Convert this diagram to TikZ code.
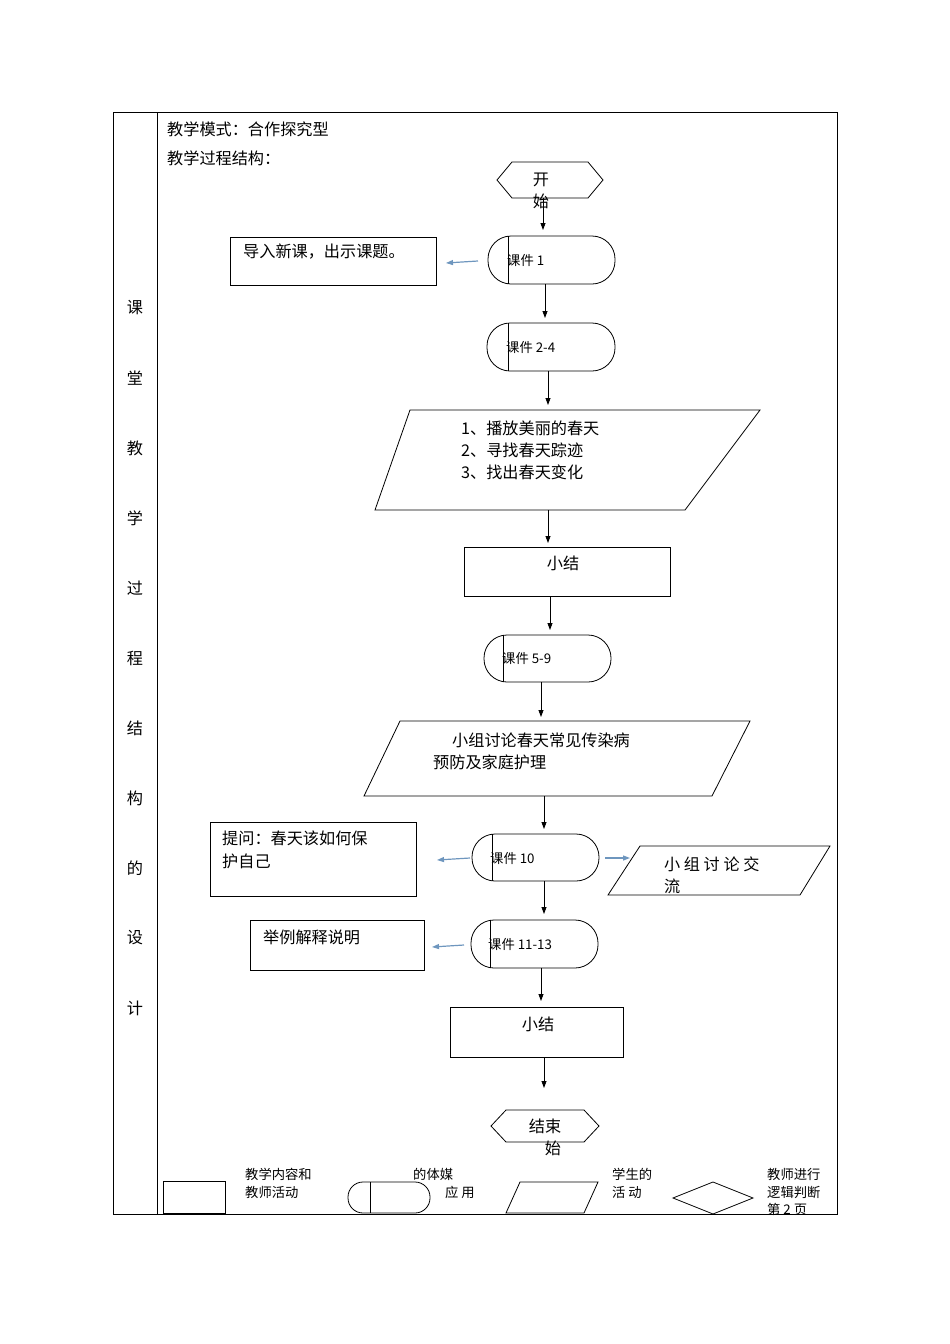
\documentclass[tikz,border=0pt]{standalone}
\usepackage{fontspec}
\setmainfont{Liberation Serif}
\newfontfamily\cjk{Noto Sans CJK SC}[Scale=0.95]
\usetikzlibrary{shapes.geometric,arrows.meta}
\definecolor{arrblue}{RGB}{110,150,190}
\begin{document}
\begin{tikzpicture}[x=1pt,y=-1pt,
  every node/.style={font=\cjk\fontsize{17}{21}\selectfont,inner sep=0pt},
  lbl/.style={anchor=west},
  small/.style={anchor=west,font=\cjk\fontsize{14}{17}\selectfont},
  arr/.style={-{Triangle[length=7pt,width=5pt]},line width=0.8pt},
  barr/.style={-{Triangle[length=7pt,width=5pt]},line width=1.2pt,color=arrblue},
  bx/.style={draw,line width=0.8pt},
  pill/.style={draw,line width=0.8pt,rounded corners=23pt}]
\useasboundingbox (0,0) rectangle (950,1344);
\draw[line width=1pt] (113,112) rectangle (837,1214);
\draw[line width=0.8pt] (157,112) -- (157,1214);
\foreach \c [count=\i from 0] in {课,堂,教,学,过,程,结,构,的,设,计}
  \node (L\i) at (135,308+70*\i) {\c};
\node[lbl] (t1) at (167,129) {教学模式：合作探究型};
\node[lbl] (t2) at (167,158) {教学过程结构：};
% start
\draw[bx] (497,180) -- (512,162) -- (588,162) -- (603,180) -- (588,198) -- (512,198) -- cycle;
\node (s1) at (541,180) {开};
\node (s2) at (541,201) {始};
\coordinate (sb) at (543,198);
% k1
\draw[pill] (488,236) rectangle (615,284); \draw[line width=0.8pt] (508,236) -- (508,284);
\node[small] (k1) at (507,260) {课件 1};
\coordinate (k1t) at (543,230); \draw[arr] (sb) -- (k1t);
\draw[bx] (230,237) rectangle (436,285);
\node[lbl] (b1) at (243,252) {导入新课，出示课题。};
\coordinate (a1s) at (478,261); \coordinate (a1e) at (446,263); \draw[barr] (a1s) -- (a1e);
% k2
\coordinate (c1) at (545,284); \coordinate (c2) at (545,318); \draw[arr] (c1) -- (c2);
\draw[pill] (487,323) rectangle (615,371); \draw[line width=0.8pt] (508,323) -- (508,371);
\node[small] (k2) at (506,347) {课件 2-4};
\coordinate (c3) at (548,371); \coordinate (c4) at (548,405); \draw[arr] (c3) -- (c4);
% para 1
\draw[bx] (410,410) -- (760,410) -- (685,510) -- (375,510) -- cycle;
\node[lbl] (p1a) at (461,428) {1、播放美丽的春天};
\node[lbl] (p1b) at (461,450) {2、寻找春天踪迹};
\node[lbl] (p1c) at (461,472) {3、找出春天变化};
\coordinate (c5) at (548,510); \coordinate (c6) at (548,543); \draw[arr] (c5) -- (c6);
\draw[bx] (464,547) rectangle (670,596);
\node (x1) at (563,563) {小结};
\coordinate (c7) at (550,596); \coordinate (c8) at (550,630); \draw[arr] (c7) -- (c8);
% k3
\draw[pill] (484,635) rectangle (611,682); \draw[line width=0.8pt] (503,635) -- (503,682);
\node[small] (k3) at (502,658) {课件 5-9};
\coordinate (c9) at (541,682); \coordinate (c10) at (541,717); \draw[arr] (c9) -- (c10);
\draw[bx] (400,721) -- (750,721) -- (712,796) -- (364,796) -- cycle;
\node[lbl] (p2a) at (452,740) {小组讨论春天常见传染病};
\node[lbl] (p2b) at (433,762) {预防及家庭护理};
\coordinate (c11) at (544,796); \coordinate (c12) at (544,829); \draw[arr] (c11) -- (c12);
% k4
\draw[pill] (472,834) rectangle (599,881); \draw[line width=0.8pt] (492,834) -- (492,881);
\node[small] (k4) at (490,858) {课件 10};
\draw[bx] (210,822) rectangle (416,896);
\node[lbl] (b2a) at (222,838) {提问：春天该如何保};
\node[lbl] (b2b) at (222,861) {护自己};
\coordinate (a2s) at (470,858); \coordinate (a2e) at (437,860); \draw[barr] (a2s) -- (a2e);
\coordinate (a3s) at (605,858); \coordinate (a3e) at (630,858); \draw[barr] (a3s) -- (a3e);
\draw[bx] (640,846) -- (830,846) -- (800,895) -- (608,895) -- cycle;
\node[lbl] (p3a) at (664,864) {小 组 讨 论 交};
\node[lbl] (p3b) at (664,886) {流};
\coordinate (c13) at (544,881); \coordinate (c14) at (544,914); \draw[arr] (c13) -- (c14);
% k5
\draw[pill] (471,920) rectangle (598,968); \draw[line width=0.8pt] (490,920) -- (490,968);
\node[small] (k5) at (488,944) {课件 11-13};
\draw[bx] (250,920) rectangle (424,970);
\node[lbl] (b3) at (263,937) {举例解释说明};
\coordinate (a4s) at (464,945); \coordinate (a4e) at (432,947); \draw[barr] (a4s) -- (a4e);
\coordinate (c15) at (541,968); \coordinate (c16) at (541,1001); \draw[arr] (c15) -- (c16);
\draw[bx] (450,1007) rectangle (623,1057);
\node (x2) at (538,1024) {小结};
\coordinate (c17) at (544,1057); \coordinate (c18) at (544,1088); \draw[arr] (c17) -- (c18);
% end
\draw[bx] (491,1126) -- (506,1110) -- (584,1110) -- (599,1126) -- (584,1142) -- (506,1142) -- cycle;
\node (e1) at (545,1126) {结束};
\node (e2) at (553,1148) {始};
% legend
\draw[bx] (163,1181) rectangle (225,1213);
\node[small] (g1a) at (245,1174) {教学内容和};
\node[small] (g1b) at (245,1192) {教师活动};
\draw[line width=0.8pt,rounded corners=15pt] (348,1182) rectangle (430,1213);
\draw[line width=0.8pt] (370,1182) -- (370,1213);
\node[small] (g2a) at (413,1174) {的体媒};
\node[small] (g2b) at (445,1192) {应 用};
\draw[bx] (520,1182) -- (598,1182) -- (584,1213) -- (506,1213) -- cycle;
\node[small] (g3a) at (612,1174) {学生的};
\node[small] (g3b) at (612,1192) {活 动};
\draw[bx] (673,1198) -- (713,1182) -- (753,1198) -- (713,1214) -- cycle;
\node[small] (g4a) at (767,1174) {教师进行};
\node[small] (g4b) at (767,1192) {逻辑判断};
\node[small] (g4c) at (767,1209) {第 2 页};
\end{tikzpicture}
\end{document}
